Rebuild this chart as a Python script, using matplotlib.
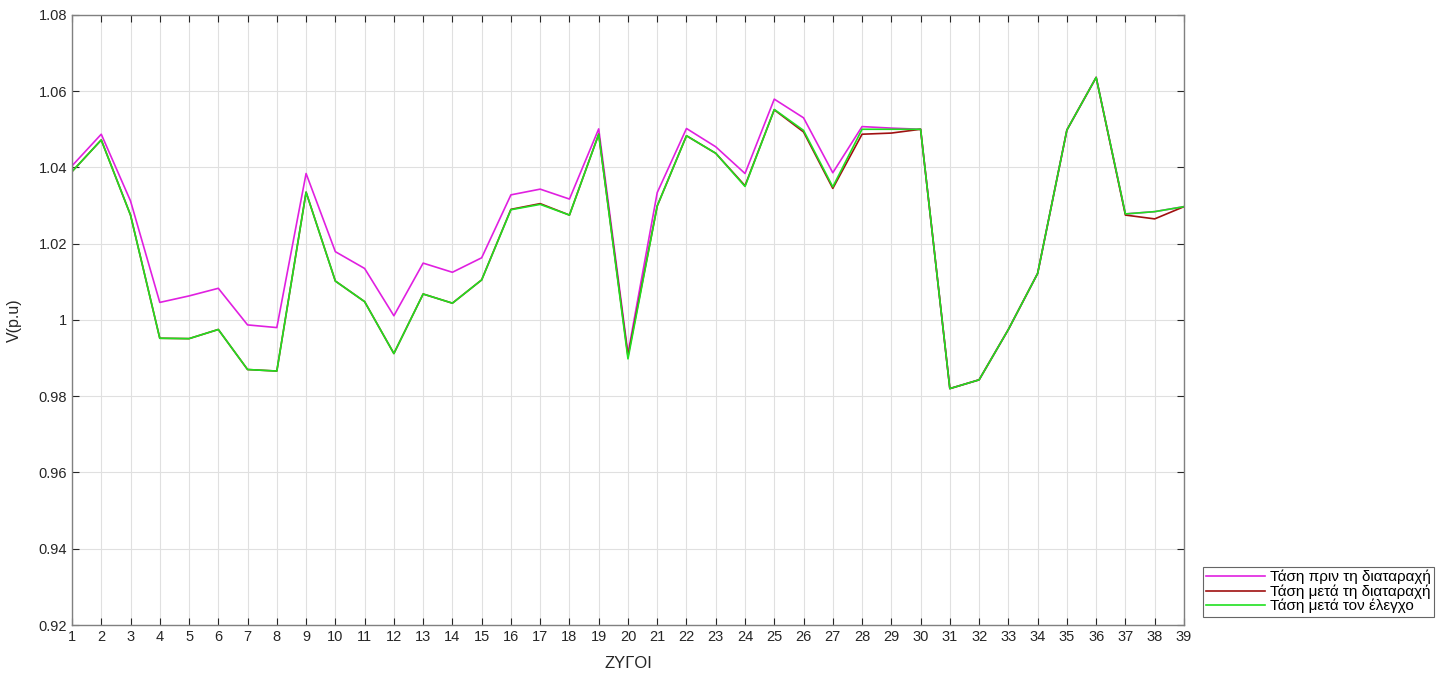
import numpy as np
import matplotlib.pyplot as plt

plt.rcParams['font.family'] = ['Liberation Sans', 'DejaVu Sans']

# bus numbers
buses = np.arange(1, 40)

# voltage before the disturbance
v_before = [1.0404, 1.0487, 1.0312, 1.0046, 1.0063, 1.0083, 0.9987, 0.9980, 1.0384, 1.0179,
            1.0135, 1.0011, 1.0149, 1.0125, 1.0163, 1.0328, 1.0343, 1.0317, 1.0501, 0.9912,
            1.0334, 1.0502, 1.0454, 1.0384, 1.0579, 1.0530, 1.0386, 1.0507, 1.0503, 1.0500,
            0.9820, 0.9843, 0.9975, 1.0122, 1.0498, 1.0636, 1.0278, 1.0284, 1.0297]

# voltage after the disturbance
v_after = [1.0389, 1.0472, 1.0275, 0.9952, 0.9951, 0.9975, 0.9870, 0.9866, 1.0335, 1.0102,
           1.0048, 0.9912, 1.0068, 1.0044, 1.0105, 1.0290, 1.0305, 1.0275, 1.0487, 0.9905,
           1.0299, 1.0483, 1.0437, 1.0352, 1.0551, 1.0493, 1.0345, 1.0487, 1.0490, 1.0500,
           0.9820, 0.9843, 0.9975, 1.0122, 1.0498, 1.0636, 1.0275, 1.0265, 1.0297]

# voltage after the control action
v_control = [1.0389, 1.0472, 1.0275, 0.9952, 0.9951, 0.9975, 0.9870, 0.9866, 1.0335, 1.0102,
             1.0048, 0.9912, 1.0068, 1.0044, 1.0105, 1.0289, 1.0303, 1.0275, 1.0487, 0.9898,
             1.0299, 1.0483, 1.0437, 1.0350, 1.0552, 1.0497, 1.0349, 1.0500, 1.0500, 1.0500,
             0.9820, 0.9843, 0.9975, 1.0122, 1.0498, 1.0636, 1.0278, 1.0284, 1.0297]

labels = ['Τάση πριν τη διαταραχή', 'Τάση μετά τη διαταραχή', 'Τάση μετά τον έλεγχο']

fig = plt.figure(figsize=(14.37, 6.75), dpi=100)
ax = fig.add_axes([0.0501, 0.074, 0.7738, 0.904])

ax.plot(buses, v_before, color='#e020e0', lw=1.2, label=labels[0])
ax.plot(buses, v_after, color='#a01010', lw=1.2, label=labels[1])
ax.plot(buses, v_control, color='#20e020', lw=1.2, label=labels[2])

ax.set_xlim(1, 39)
ax.set_ylim(0.92, 1.08)
ax.set_xticks(buses)
ax.set_yticks(np.arange(0.92, 1.081, 0.02))
ax.set_yticklabels(['0.92', '0.94', '0.96', '0.98', '1', '1.02', '1.04', '1.06', '1.08'])
ax.tick_params(direction='in', top=True, right=True, length=5, labelsize=10.5, colors='#262626')
ax.grid(True, color='#e0e0e0', lw=0.8)
for s in ax.spines.values():
    s.set_color('#808080')
    s.set_linewidth(1.0)

ax.set_xlabel('ΖΥΓΟΙ', fontsize=12, color='#262626', labelpad=9)
ax.set_ylabel('V(p.u)', fontsize=11.5, color='#262626', labelpad=12)

leg = ax.legend(loc='lower left', bbox_to_anchor=(1.017, 0.014), fontsize=11,
                frameon=True, fancybox=False, edgecolor='#404040', borderpad=0.2,
                handlelength=3.9, labelspacing=0.0, handletextpad=0.3, borderaxespad=0)
leg.get_frame().set_linewidth(0.8)

fig.savefig('out.png', dpi=100)
